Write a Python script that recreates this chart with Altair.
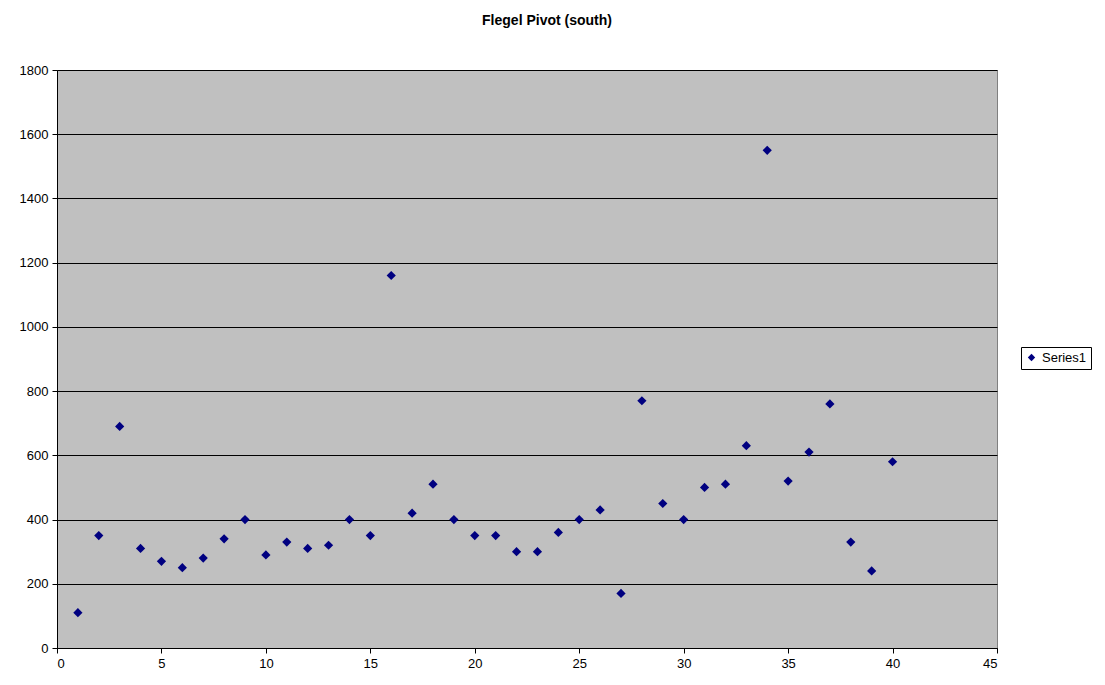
import altair as alt
import pandas as pd

x_vals = list(range(1, 41))
y_vals = [110, 350, 690, 310, 270, 250, 280, 340, 400, 290,
          330, 310, 320, 400, 350, 1160, 420, 510, 400, 350,
          350, 300, 300, 360, 400, 430, 170, 770, 450, 400,
          500, 510, 630, 1550, 520, 610, 760, 330, 240, 580]
series = ["Series1"] * len(x_vals)

df = pd.DataFrame({"x": x_vals, "y": y_vals, "series": series})

FONT = "Liberation Sans"

chart = alt.Chart(df).mark_point(shape="diamond", filled=True, size=85, opacity=1).encode(
    x=alt.X("x:Q", scale=alt.Scale(domain=[0, 45], nice=False, zero=True),
            axis=alt.Axis(values=list(range(0, 46, 5)), title=None, grid=False,
                          domainColor="black", tickColor="black", tickSize=5,
                          labelFont=FONT, labelFontSize=13, labelColor="black",
                          labelPadding=4)),
    y=alt.Y("y:Q", scale=alt.Scale(domain=[0, 1800], nice=False),
            axis=alt.Axis(values=list(range(0, 1801, 200)), title=None, grid=True,
                          format="d",
                          gridColor="black", gridWidth=1, gridOpacity=1,
                          domainColor="black", tickColor="black", tickSize=5,
                          labelFont=FONT, labelFontSize=13, labelColor="black",
                          labelPadding=4)),
    color=alt.Color("series:N", scale=alt.Scale(range=["#000080"]),
                    legend=alt.Legend(title=None, orient="none", legendX=964, legendY=277,
                                      symbolType="diamond", symbolSize=55,
                                      labelFont=FONT, labelFontSize=13, labelColor="black",
                                      strokeColor="black", fillColor="white",
                                      padding=4)),
).properties(
    width=940,
    height=578,
    title=alt.TitleParams("Flegel Pivot (south)", font=FONT, fontSize=14, fontWeight="bold",
                          color="black", anchor="middle", dx=20, offset=36),
    autosize=alt.AutoSizeParams(type="none"),
    padding={"left": 49, "top": 62, "right": 100, "bottom": 29},
).configure(
    background="white"
).configure_view(
    fill="#C0C0C0", stroke="#808080", strokeWidth=1
)

chart.save("out.html", embed_options={"renderer": "svg", "actions": False})
